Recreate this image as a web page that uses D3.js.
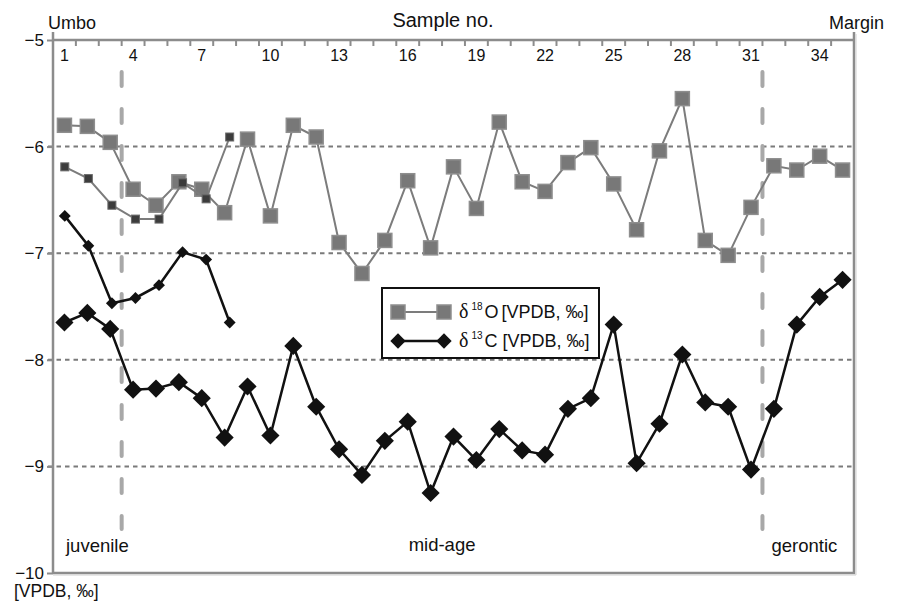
<!DOCTYPE html>
<html><head><meta charset="utf-8">
<script src="https://cdn.jsdelivr.net/npm/d3@7"></script>
<style>body{margin:0;background:#fff}svg{display:block;font-family:"Liberation Sans",Arial,sans-serif}</style>
</head><body><svg id="c" width="900" height="602"></svg>
<script>
const samples = [1,2,3,4,5,6,7,8,9,10,11,12,13,14,15,16,17,18,19,20,21,22,23,24,25,26,27,28,29,30,31,32,33,34,35];
const xTickLabels = [1,4,7,10,13,16,19,22,25,28,31,34];
const yTicks = [-5,-6,-7,-8,-9,-10];
const gridValues = [-6,-7,-8,-9];
const d18O = [-5.80,-5.81,-5.96,-6.40,-6.55,-6.33,-6.40,-6.62,-5.93,-6.65,-5.80,-5.91,-6.90,-7.19,-6.88,-6.32,-6.95,-6.19,-6.58,-5.77,-6.33,-6.42,-6.15,-6.01,-6.35,-6.78,-6.04,-5.55,-6.88,-7.02,-6.57,-6.18,-6.22,-6.09,-6.22];
const d13C = [-7.65,-7.56,-7.71,-8.28,-8.27,-8.21,-8.36,-8.73,-8.25,-8.71,-7.87,-8.44,-8.84,-9.08,-8.76,-8.58,-9.25,-8.72,-8.94,-8.65,-8.85,-8.89,-8.46,-8.36,-7.67,-8.97,-8.60,-7.95,-8.40,-8.44,-9.03,-8.46,-7.67,-7.41,-7.25];
const juvSamples = [1,2,3,4,5,6,7,8];
const juvD18O = [-6.19,-6.30,-6.55,-6.68,-6.68,-6.34,-6.49,-5.91];
const juvD13C = [-6.65,-6.93,-7.47,-7.42,-7.30,-6.99,-7.06,-7.65];
const stageBoundaries = [4, 32];
const stageLabels = ["juvenile","mid-age","gerontic"];

const svg = d3.select("#c");
const L = 53, R = 854, T = 40, B = 573;
const x = d3.scaleBand().domain(samples).range([L, R]);
const x2 = d3.scaleBand().domain(samples.slice(0, 34)).range([L, R]);
const y = d3.scaleLinear().domain([-10, -5]).range([B, T]);
const cx = s => x(s) + x.bandwidth()/2;
const cx2 = s => x2(s) + x2.bandwidth()/2;

// frame (bottom + right)
svg.append("path").attr("d", `M${L},${B}H${R}V${T-8}`).attr("fill","none").attr("stroke","#8c8c8c").attr("stroke-width",2.5);
svg.append("path").attr("d", `M${L},${B+2}H${R+2}V${T-6}`).attr("fill","none").attr("stroke","#d0d0d0").attr("stroke-width",1);

// gridlines
svg.append("g").selectAll("line").data(gridValues).join("line")
  .attr("x1", L-5).attr("x2", R).attr("y1", d=>y(d)).attr("y2", d=>y(d))
  .attr("stroke","#7a7a7a").attr("stroke-width",2).attr("stroke-dasharray","4.5,4");

// stage boundary lines
svg.append("g").selectAll("line").data(stageBoundaries).join("line")
  .attr("x1", d=>x(d)).attr("x2", d=>x(d)).attr("y1", 72).attr("y2", 529)
  .attr("stroke","#a8a8a8").attr("stroke-width",4).attr("stroke-linecap","round")
  .attr("stroke-dasharray","14,23");

// y axis
const yAxis = d3.axisLeft(y).tickValues(yTicks).tickSize(6).tickPadding(3).tickFormat(d3.format("d"));
const gy = svg.append("g").attr("transform",`translate(${L},0)`).call(yAxis);
gy.select(".domain").remove();
gy.selectAll(".tick line").attr("stroke","#8c8c8c").attr("stroke-width",2);
gy.selectAll(".tick text").attr("font-size",17).attr("fill","#111").attr("font-family","Liberation Sans, Arial, sans-serif");
svg.append("line").attr("x1",L).attr("x2",L).attr("y1",T-8).attr("y2",B).attr("stroke","#8c8c8c").attr("stroke-width",2.5);

// top axis
svg.append("line").attr("x1",L).attr("x2",R).attr("y1",T).attr("y2",T).attr("stroke","#8c8c8c").attr("stroke-width",2.5);
svg.append("g").selectAll("line").data(samples).join("line")
  .attr("x1", d=>x(d)).attr("x2", d=>x(d)).attr("y1", T).attr("y2", T+6)
  .attr("stroke","#8c8c8c").attr("stroke-width",2);
const xAxis = d3.axisBottom(x).tickValues(xTickLabels).tickSize(0).tickPadding(10);
const gx = svg.append("g").attr("transform",`translate(0,${T})`).call(xAxis);
gx.select(".domain").remove();
gx.selectAll(".tick text").attr("font-size",16).attr("fill","#111").attr("font-family","Liberation Sans, Arial, sans-serif");

// titles
svg.append("text").attr("x",48).attr("y",29).attr("font-size",18).attr("fill","#111").text("Umbo");
svg.append("text").attr("x",443).attr("y",27).attr("font-size",20).attr("text-anchor","middle").attr("fill","#111").text("Sample no.");
svg.append("text").attr("x",829).attr("y",29).attr("font-size",18).attr("fill","#111").text("Margin");
svg.append("text").attr("x",14).attr("y",597).attr("font-size",17.5).attr("fill","#111").text("[VPDB, ‰]");

// stage labels
svg.append("text").attr("x", x(1)+13).attr("y",552).attr("font-size",18.5).attr("fill","#111").text(stageLabels[0]);
svg.append("text").attr("x", (x(stageBoundaries[0])+x(stageBoundaries[1]))/2).attr("y",551).attr("font-size",18.5).attr("text-anchor","middle").attr("fill","#111").text(stageLabels[1]);
svg.append("text").attr("x", x(stageBoundaries[1])+9).attr("y",552).attr("font-size",18.5).attr("fill","#111").text(stageLabels[2]);

const dia = d3.symbol().type(d3.symbolDiamond2);

// juvenile d13C (small diamonds)
const lineJ = d3.line().x((d,i)=>cx2(juvSamples[i])).y(d=>y(d));
svg.append("path").attr("d", lineJ(juvD13C)).attr("fill","none").attr("stroke","#111").attr("stroke-width",2.5);
svg.append("g").selectAll("path").data(juvD13C).join("path")
  .attr("d", dia.size(90)()).attr("transform",(d,i)=>`translate(${cx2(juvSamples[i])},${y(d)})`).attr("fill","#111");

// main d13C
const lineM = d3.line().x((d,i)=>cx(samples[i])).y(d=>y(d));
svg.append("path").attr("d", lineM(d13C)).attr("fill","none").attr("stroke","#111").attr("stroke-width",2.5);
svg.append("g").selectAll("path").data(d13C).join("path")
  .attr("d", dia.size(210)()).attr("transform",(d,i)=>`translate(${cx(samples[i])},${y(d)})`).attr("fill","#111");

// main d18O
svg.append("path").attr("d", lineM(d18O)).attr("fill","none").attr("stroke","#7c7c7c").attr("stroke-width",2);
svg.append("g").selectAll("rect").data(d18O).join("rect")
  .attr("x",(d,i)=>cx(samples[i])-7).attr("y",d=>y(d)-7).attr("width",14).attr("height",14)
  .attr("fill","#787878").attr("stroke","#8e8e8e").attr("stroke-width",1.5);

// juvenile d18O (small dark squares)
svg.append("path").attr("d", lineJ(juvD18O)).attr("fill","none").attr("stroke","#7c7c7c").attr("stroke-width",2);
svg.append("g").selectAll("rect").data(juvD18O).join("rect")
  .attr("x",(d,i)=>cx2(juvSamples[i])-4).attr("y",d=>y(d)-4).attr("width",8).attr("height",8)
  .attr("fill","#3c3c3c").attr("stroke","#6a6a6a").attr("stroke-width",1);

// legend
const lg = svg.append("g");
lg.append("rect").attr("x",382).attr("y",288).attr("width",217).attr("height",70).attr("fill","#fff").attr("stroke","#111").attr("stroke-width",2);
lg.append("line").attr("x1",398).attr("x2",444).attr("y1",312).attr("y2",312).attr("stroke","#7c7c7c").attr("stroke-width",2);
[398,444].forEach(px=>lg.append("rect").attr("x",px-7).attr("y",305).attr("width",14).attr("height",14).attr("fill","#787878").attr("stroke","#8e8e8e").attr("stroke-width",1.5));
lg.append("line").attr("x1",398).attr("x2",444).attr("y1",341).attr("y2",341).attr("stroke","#111").attr("stroke-width",2.5);
[398,444].forEach(px=>lg.append("path").attr("d",dia.size(150)()).attr("transform",`translate(${px},341)`).attr("fill","#111"));
const t1 = lg.append("text").attr("x",459).attr("y",318).attr("font-size",18).attr("fill","#111");
t1.append("tspan").attr("font-family","Liberation Serif, serif").attr("font-size",20).text("δ");
t1.append("tspan").attr("font-size",10).attr("dx",3).attr("dy",-8).text("18");
t1.append("tspan").attr("dx",2).attr("dy",8).text("O");
t1.append("tspan").attr("dx",3).text("[VPDB, ‰]");
const t2 = lg.append("text").attr("x",459).attr("y",347).attr("font-size",18).attr("fill","#111");
t2.append("tspan").attr("font-family","Liberation Serif, serif").attr("font-size",20).text("δ");
t2.append("tspan").attr("font-size",10).attr("dx",3).attr("dy",-8).text("13");
t2.append("tspan").attr("dx",2).attr("dy",8).text("C");
t2.append("tspan").attr("dx",0).text(" [VPDB, ‰]");
</script></body></html>
